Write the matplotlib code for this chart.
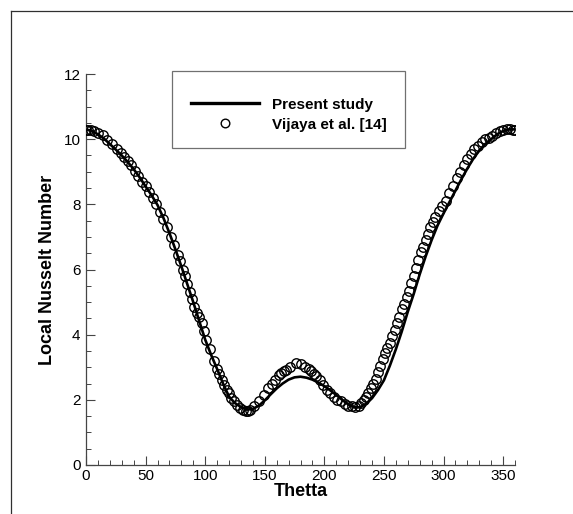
import matplotlib
matplotlib.use("Agg")
import matplotlib.pyplot as plt
from matplotlib.lines import Line2D
from matplotlib.patches import Rectangle
from matplotlib.ticker import MultipleLocator

plt.rcParams['font.family'] = ['Liberation Sans', 'DejaVu Sans']

# Present study (solid line)
line_theta = [0, 5, 10, 15, 20, 25, 30, 35, 40, 45, 50, 55, 60, 65, 70, 75, 80, 85, 90, 95,
              100, 105, 110, 115, 120, 125, 130, 135, 140, 145, 150, 155, 160, 165, 170, 175,
              180, 185, 190, 195, 200, 205, 210, 215, 220, 225, 230, 235, 240, 245, 250, 255,
              260, 265, 270, 275, 280, 285, 290, 295, 300, 305, 310, 315, 320, 325, 330, 335,
              340, 345, 350, 355, 360]
line_nu = [10.30, 10.25, 10.15, 10.02, 9.85, 9.68, 9.50, 9.30, 9.08, 8.83, 8.55, 8.28, 7.98,
           7.58, 7.12, 6.62, 6.10, 5.55, 5.00, 4.42, 3.85, 3.38, 2.95, 2.50, 2.10, 1.90, 1.78,
           1.70, 1.72, 1.82, 1.98, 2.17, 2.35, 2.50, 2.62, 2.69, 2.71, 2.68, 2.62, 2.53, 2.42,
           2.29, 2.15, 2.00, 1.86, 1.77, 1.77, 1.88, 2.05, 2.30, 2.60, 3.05, 3.55, 4.10, 4.70,
           5.25, 5.85, 6.40, 6.90, 7.35, 7.72, 8.07, 8.42, 8.77, 9.10, 9.40, 9.65, 9.85, 10.00,
           10.15, 10.25, 10.30, 10.30]

# Vijaya et al. [14] (open circles)
ref_theta = [0, 2, 4, 7, 10, 14, 18, 22, 26, 29, 32, 35, 38, 41, 44, 47, 50, 53, 56, 59, 62,
             65, 68, 71, 74, 77, 79, 81, 83, 85, 87, 89, 91, 93, 95, 97, 99, 101, 104, 107,
             110, 112, 114, 116, 118, 120, 122, 124, 127, 129, 132, 134, 136, 138, 141, 145,
             149, 153, 156, 159, 162, 164, 166, 168, 171, 176, 180, 184, 187, 189, 191, 193,
             196, 199, 202, 205, 208, 211, 214, 217, 220, 223, 226, 229, 231, 233, 235, 237,
             239, 241, 243, 245, 247, 249, 251, 253, 255, 257, 259, 261, 263, 265, 267, 269,
             271, 273, 275, 277, 279, 281, 283, 285, 287, 289, 291, 293, 296, 299, 302, 305,
             308, 311, 314, 317, 320, 323, 326, 329, 332, 335, 338, 341, 344, 347, 350, 353,
             356, 358, 360]
ref_nu = [10.28, 10.28, 10.28, 10.26, 10.20, 10.12, 9.98, 9.85, 9.70, 9.58, 9.45, 9.32, 9.20,
          9.02, 8.88, 8.70, 8.55, 8.38, 8.20, 8.00, 7.75, 7.55, 7.30, 7.00, 6.75, 6.45, 6.25,
          6.00, 5.80, 5.55, 5.30, 5.10, 4.85, 4.68, 4.55, 4.35, 4.10, 3.85, 3.55, 3.20, 2.95,
          2.80, 2.60, 2.45, 2.30, 2.20, 2.05, 1.95, 1.85, 1.75, 1.70, 1.65, 1.65, 1.70, 1.80,
          1.95, 2.15, 2.35, 2.50, 2.60, 2.75, 2.82, 2.88, 2.92, 3.00, 3.12, 3.10, 3.02, 2.95,
          2.88, 2.80, 2.72, 2.60, 2.45, 2.30, 2.20, 2.10, 2.00, 1.95, 1.87, 1.82, 1.80, 1.78,
          1.82, 1.90, 2.00, 2.10, 2.20, 2.35, 2.50, 2.65, 2.85, 3.05, 3.25, 3.45, 3.60, 3.75,
          3.95, 4.15, 4.35, 4.55, 4.80, 4.95, 5.15, 5.35, 5.60, 5.80, 6.05, 6.30, 6.55, 6.70,
          6.90, 7.10, 7.30, 7.45, 7.60, 7.80, 7.95, 8.10, 8.35, 8.55, 8.80, 9.00, 9.20, 9.40,
          9.55, 9.70, 9.80, 9.90, 10.00, 10.05, 10.10, 10.18, 10.25, 10.28, 10.30, 10.30,
          10.28, 10.28]

legend_labels = ["Present study", "Vijaya et al. [14]"]
x_label = "Thetta"
y_label = "Local Nusselt Number"

W, H = 573, 514
AX_L, AX_R, AX_T, AX_B = 86, 515, 74, 465
fig = plt.figure(figsize=(W / 100, H / 100), dpi=100)
ax = fig.add_axes([AX_L / W, 1 - AX_B / H, (AX_R - AX_L) / W, (AX_B - AX_T) / H])


def ax_xy(px, py):
    """pixel position in the picture -> axes fraction (for legend layout only)"""
    return (px - AX_L) / (AX_R - AX_L), (AX_B - py) / (AX_B - AX_T)


axc = '#454545'
ax.plot(line_theta, line_nu, color='black', lw=1.9, zorder=2)
ax.plot(ref_theta, ref_nu, ls='none', marker='o', ms=6.8, mfc='none',
        mec='black', mew=1.0, zorder=3)

ax.set_xlim(0, 360)
ax.set_ylim(0, 12)
ax.xaxis.set_major_locator(MultipleLocator(50))
ax.xaxis.set_minor_locator(MultipleLocator(10))
ax.yaxis.set_major_locator(MultipleLocator(2))
ax.yaxis.set_minor_locator(MultipleLocator(0.5))

for s in ['top', 'right']:
    ax.spines[s].set_visible(False)
for s in ['left', 'bottom']:
    ax.spines[s].set_color(axc)
    ax.spines[s].set_linewidth(0.9)

ax.tick_params(which='both', direction='in', colors=axc, labelcolor='black',
               labelsize=11)
ax.tick_params(which='major', length=6.5, width=0.8)
ax.tick_params(which='minor', length=3.6, width=0.7)
ax.tick_params(axis='x', which='major', pad=3)
ax.tick_params(axis='y', which='major', pad=4)

ax.set_xlabel(x_label, fontsize=13, fontweight='bold')
ax.set_ylabel(y_label, fontsize=13, fontweight='bold')
ax.xaxis.set_label_coords(0.5, -0.045)
ax.yaxis.set_label_coords(-0.07, 0.5)

# legend box, drawn by hand to match the reference layout
x0, y0 = ax_xy(172, 148)
x1, y1 = ax_xy(405, 71)
ax.add_patch(Rectangle((x0, y0), x1 - x0, y1 - y0, transform=ax.transAxes,
                       facecolor='white', edgecolor='#707070', lw=0.9,
                       clip_on=False, zorder=5))
lx0, ly0 = ax_xy(191, 103)
lx1, _ = ax_xy(259, 103)
ax.add_line(Line2D([lx0, lx1], [ly0, ly0], transform=ax.transAxes, color='black',
                   lw=2.4, clip_on=False, zorder=6))
mx, my = ax_xy(225, 123)
ax.add_line(Line2D([mx], [my], transform=ax.transAxes, ls='none', marker='o', ms=6.2,
                   mfc='none', mec='black', mew=1.0, clip_on=False, zorder=6))
tx, ty1 = ax_xy(272, 103)
_, ty2 = ax_xy(272, 123)
for lab, ty in zip(legend_labels, [ty1, ty2]):
    ax.text(tx, ty, lab, transform=ax.transAxes, ha='left', va='center_baseline',
            fontsize=11, fontweight='bold', zorder=6)

# outer frame lines (left and top)
fig.add_artist(Line2D([11 / W, 11 / W], [0, 1 - 11 / H], transform=fig.transFigure,
                      color='#303030', lw=0.9))
fig.add_artist(Line2D([11 / W, 1], [1 - 11 / H, 1 - 11 / H], transform=fig.transFigure,
                      color='#303030', lw=0.9))

fig.savefig("out.png", dpi=100, facecolor='white')
